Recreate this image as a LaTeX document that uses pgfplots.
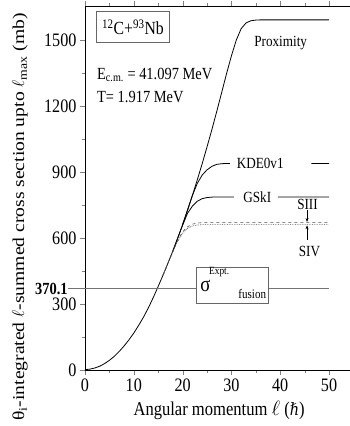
\documentclass[border=0pt]{standalone}
\usepackage{fontspec}
\setmainfont{Liberation Serif}[FakeStretch=0.85]
\newfontfamily\ylabfont{Liberation Serif}[FakeStretch=1.18]
\newfontfamily\djv{DejaVu Serif}[FakeStretch=0.85]
\usepackage{pgfplots}
\pgfplotsset{compat=1.18}
\usetikzlibrary{arrows.meta}
\begin{document}
\begin{tikzpicture}
\begin{axis}[
  scale only axis, width=264.5pt, height=364pt,
  xmin=0, xmax=54.2, ymin=0, ymax=1655,
  axis x line=box, axis y line=left,
  x axis line style={-}, y axis line style={-},
  tick align=outside, major tick length=5pt, minor tick length=3pt,
  xtick={0,10,...,50}, ytick={0,300,...,1500},
  minor x tick num=1, minor y tick num=1,
  /pgf/number format/assume math mode=true,
  /pgf/number format/1000 sep={},
  ticklabel style={font=\fontsize{19}{19}\selectfont},
  xlabel={Angular momentum $\ell$ ({\djv\itshape\fontsize{17}{17}\selectfont ℏ})},
  ylabel={θ\textsubscript{i}-integrated $\ell$-summed cross section upto $\ell$\textsubscript{max} (mb)},
  xlabel style={at={(axis description cs:0.507,-0.11)}, anchor=center, font=\fontsize{19.5}{19.5}\selectfont},
  ylabel style={at={(axis description cs:-0.2457,0.4203)}, anchor=center, font=\ylabfont\fontsize{16.6}{16.6}\selectfont},
  clip=false, unbounded coords=jump,
]
% Proximity
\addplot[black, line width=0.8pt] coordinates {
(0,1.5)(1,4)(2,9)(3,17)(4,29)(5,44)(6,62)(7,84)(8,109)(9,137)(10,168)(11,203)(12,241)(13,283)(14,330)(15,380)(16,432)(17,486)(18,541)(19,600)(20,661)(21,726)(22,793)(23,864)(24,937)(25,1014)(26,1093)(27,1176)(28,1261)(29,1347)(30,1428)(31,1500)(32,1552)(33,1578)(34,1588)(35,1591)(36,1592)(50,1592)};
% KDE0v1
\addplot[black, line width=0.8pt] coordinates {
(20,661)(21,726)(22,793)(23,848)(24,886)(25,910)(26,926)(27,935)(28,938)(29,939)(29.7,939)(30,nan)(46.4,939)(50,939)};
% GSkI
\addplot[black, line width=0.8pt] coordinates {
(18,541)(19,600)(20,658)(21,712)(22,745)(23,767)(24,779)(25,784)(26,786)(27,787)(30.5,787)(31,nan)(39.5,787)(50,787)};
% SIII
\addplot[black!70, dashed, line width=0.6pt] coordinates {
(16,432)(17,486)(18,539)(19,590)(20,628)(21,651)(22,663)(23,668)(24,670)(50,670)};
% SIV
\addplot[black!70, densely dotted, line width=0.7pt] coordinates {
(16,432)(17,486)(18,538)(19,586)(20,622)(21,644)(22,655)(23,659)(24,661)(50,661)};
% experimental fusion
\addplot[black!55, line width=0.7pt] coordinates {(-3.4,370.1)(50,370.1)};

\node[anchor=east, font=\bfseries\fontsize{17}{17}\selectfont, inner sep=0.5pt] at (axis cs:-3.4,370.1) {370.1};
\node[draw=black!60, fill=white, minimum width=72pt, minimum height=36pt, inner sep=0pt, line width=0.7pt] at (axis cs:30.1,386) {};
\node[anchor=west, inner sep=0pt, font=\fontsize{22}{22}\selectfont] at (axis cs:23.6,383) {σ};
\node[anchor=west, inner sep=0pt, font=\fontsize{11}{11}\selectfont] at (axis cs:25.4,445) {Expt.};
\node[anchor=west, inner sep=0pt, font=\fontsize{13}{13}\selectfont] at (axis cs:31.4,345) {fusion};

\node[font=\fontsize{15.5}{15.5}\selectfont] at (axis cs:40.1,1486) {Proximity};
\node[font=\fontsize{15.5}{15.5}\selectfont] at (axis cs:35.9,939) {KDE0v1};
\node[font=\fontsize{15.5}{15.5}\selectfont] at (axis cs:35.3,787) {GSkI};
\node[font=\fontsize{15.5}{15.5}\selectfont, inner sep=0pt] at (axis cs:45.6,752) {SIII};
\node[font=\fontsize{15.5}{15.5}\selectfont, inner sep=0pt] at (axis cs:46.0,538) {SIV};
\draw[-{Stealth[length=4pt,width=3pt]}, line width=0.6pt] (axis cs:45.5,727) -- (axis cs:45.5,673);
\draw[-{Stealth[length=4pt,width=3pt]}, line width=0.6pt] (axis cs:45.5,592) -- (axis cs:45.5,658);

\node[draw=black!60, line width=0.7pt, minimum width=72.6pt, minimum height=31pt, inner sep=0pt, font=\fontsize{18.5}{18.5}\selectfont] at (axis cs:9.84,1559) {\textsuperscript{12}C+\textsuperscript{93}Nb};
\node[anchor=west, inner sep=0pt, font=\fontsize{17}{17}\selectfont] at (axis cs:2.45,1341) {E\textsubscript{c.m.} = 41.097 MeV};
\node[anchor=west, inner sep=0pt, font=\fontsize{17}{17}\selectfont] at (axis cs:2.45,1242) {T= 1.917 MeV};

\path (rel axis cs:0,0) ++(-85pt,-56pt) coordinate (bbA);
\path (rel axis cs:1,1) ++(0.5pt,6pt) coordinate (bbB);
\end{axis}
\end{tikzpicture}
\end{document}
